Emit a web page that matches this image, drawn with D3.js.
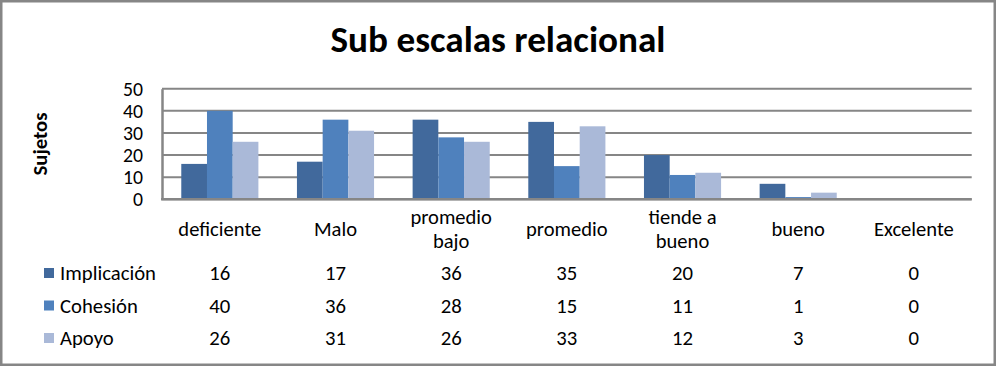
<!DOCTYPE html>
<html>
<head>
<meta charset="utf-8">
<script src="https://cdn.jsdelivr.net/npm/d3@7"></script>
<style>
  html, body { margin: 0; padding: 0; background: #fff; }
  svg { display: block; }
  text { font-family: Carlito, Calibri, "Open Sans", sans-serif; fill: #000; }
</style>
</head>
<body>
<svg id="chart" width="996" height="366"></svg>
<script>
const title = "Sub escalas relacional";
const yAxisLabel = "Sujetos";
const categories = ["deficiente", "Malo", "promedio\nbajo", "promedio", "tiende a\nbueno", "bueno", "Excelente"];
const seriesNames = ["Implicación", "Cohesión", "Apoyo"];
const implicacion = [16, 17, 36, 35, 20, 7, 0];
const cohesion = [40, 36, 28, 15, 11, 1, 0];
const apoyo = [26, 31, 26, 33, 12, 3, 0];
const yTicks = [0, 10, 20, 30, 40, 50];
const seriesColors = ["#41699C", "#4F81BD", "#AAB9D8"];

const seriesValues = [implicacion, cohesion, apoyo];
const svg = d3.select("#chart");

// measure helper: font size giving a target width
function fitSize(str, target, weight, base) {
  const t = svg.append("text").attr("font-size", base).attr("font-weight", weight).text(str);
  const w = t.node().getComputedTextLength();
  t.remove();
  return base * target / w;
}
const titleSize = fitSize(title, 335, "bold", 32);
const labelSize = fitSize("deficiente", 83, "normal", 18);
const tableSize = fitSize("Implicación", 96, "normal", 18);
const tickSize = fitSize("50", 20, "normal", 18);
const yTitleSize = fitSize(yAxisLabel, 63, "bold", 16);

// outer border
svg.append("rect")
  .attr("x", 1.25).attr("y", 1.25).attr("width", 993.5).attr("height", 363.5)
  .attr("fill", "#fff").attr("stroke", "#868686").attr("stroke-width", 2.5);

const plotLeft = 162, plotRight = 971.7, plotTop = 88.7, plotBottom = 199.3;

const x = d3.scaleBand().domain(categories).range([plotLeft, plotRight]).paddingInner(0).paddingOuter(0);
const x1 = d3.scaleBand().domain(seriesNames).range([0, x.bandwidth()]).paddingInner(0).paddingOuter(0.75);
const y = d3.scaleLinear().domain([0, 50]).range([plotBottom, plotTop]);

// title
svg.append("text")
  .attr("x", 498).attr("y", 52)
  .attr("text-anchor", "middle")
  .attr("font-size", titleSize).attr("font-weight", "bold")
  .text(title);

// gridlines
svg.append("g").selectAll("line")
  .data(yTicks)
  .join("line")
  .attr("x1", plotLeft).attr("x2", plotRight)
  .attr("y1", d => y(d)).attr("y2", d => y(d))
  .attr("stroke", "#868686").attr("stroke-width", 2);

// bars
const groups = svg.append("g").selectAll("g")
  .data(categories)
  .join("g")
  .attr("transform", d => `translate(${x(d)},0)`);

groups.selectAll("rect")
  .data((c, i) => seriesNames.map((s, j) => ({ s, j, v: seriesValues[j][i] })))
  .join("rect")
  .attr("x", d => x1(d.s))
  .attr("width", x1.bandwidth())
  .attr("y", d => y(d.v))
  .attr("height", d => plotBottom - y(d.v))
  .attr("fill", d => seriesColors[d.j]);

// y axis
const yAxis = svg.append("g")
  .attr("transform", `translate(${plotLeft},0)`)
  .call(d3.axisLeft(y).tickValues(yTicks).tickSize(0).tickPadding(19));
yAxis.select(".domain").attr("stroke", "#868686").attr("stroke-width", 2.5);
yAxis.selectAll("text")
  .attr("font-size", tickSize)
  .attr("font-family", "Carlito, Calibri, 'Open Sans', sans-serif")
  .attr("fill", "#000");

// bottom line
svg.append("line")
  .attr("x1", plotLeft - 1).attr("x2", plotRight)
  .attr("y1", y(0)).attr("y2", y(0))
  .attr("stroke", "#868686").attr("stroke-width", 2.5);

// y axis title
svg.append("text")
  .attr("transform", "translate(46.5,144) rotate(-90)")
  .attr("text-anchor", "middle")
  .attr("font-size", yTitleSize).attr("font-weight", "bold")
  .text(yAxisLabel);

// category labels (each line as its own text)
const catG = svg.append("g");
categories.forEach(c => {
  const lines = c.split("\n");
  const cx = x(c) + x.bandwidth() / 2;
  const ys = lines.length === 1 ? [229] : [216.5, 241];
  lines.forEach((ln, k) => {
    catG.append("text")
      .attr("x", cx).attr("y", ys[k]).attr("dy", "0.35em")
      .attr("text-anchor", "middle")
      .attr("font-size", labelSize)
      .text(ln);
  });
});

// data table
const rowY = [273, 305.5, 338];
seriesNames.forEach((s, j) => {
  svg.append("rect")
    .attr("x", 44).attr("y", rowY[j] - 5).attr("width", 10).attr("height", 10)
    .attr("fill", seriesColors[j]);
  svg.append("text")
    .attr("x", 60).attr("y", rowY[j]).attr("dy", "0.35em")
    .attr("font-size", tableSize)
    .text(s);
  categories.forEach((c, i) => {
    svg.append("text")
      .attr("x", x(c) + x.bandwidth() / 2).attr("y", rowY[j]).attr("dy", "0.35em")
      .attr("text-anchor", "middle")
      .attr("font-size", tableSize)
      .text(seriesValues[j][i]);
  });
});
</script>
</body>
</html>
